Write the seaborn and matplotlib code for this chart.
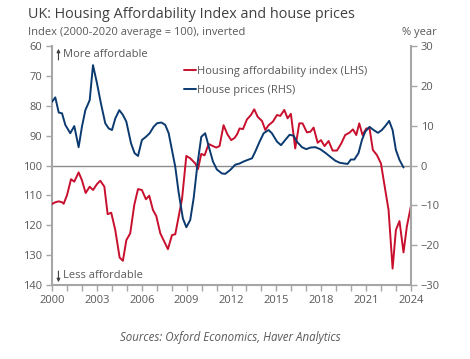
import numpy as np
import pandas as pd
import matplotlib
matplotlib.use("Agg")
import matplotlib.pyplot as plt
import seaborn as sns
from matplotlib.lines import Line2D

# ---- data ----
afford_year = [2000.00, 2000.22, 2000.45, 2000.67, 2000.78, 2001.00, 2001.27, 2001.49, 2001.78, 2002.00,
               2002.25, 2002.52, 2002.74, 2003.01, 2003.23, 2003.50, 2003.72, 2003.96, 2004.23, 2004.52,
               2004.74, 2004.97, 2005.23, 2005.50, 2005.75, 2006.01, 2006.28, 2006.50, 2006.75, 2006.97,
               2007.24, 2007.46, 2007.75, 2008.02, 2008.24, 2008.69, 2008.98, 2009.24, 2009.58, 2009.76,
               2009.98, 2010.20, 2010.47, 2010.76, 2010.98, 2011.20, 2011.47, 2011.72, 2011.98, 2012.20,
               2012.37, 2012.54, 2012.77, 2013.03, 2013.30, 2013.52, 2013.75, 2014.04, 2014.26, 2014.48,
               2014.77, 2015.04, 2015.26, 2015.53, 2015.75, 2015.97, 2016.26, 2016.53, 2016.75, 2017.04,
               2017.27, 2017.49, 2017.76, 2017.98, 2018.22, 2018.49, 2018.76, 2019.05, 2019.34, 2019.60,
               2019.89, 2020.12, 2020.34, 2020.54, 2020.76, 2021.01, 2021.23, 2021.45, 2021.72, 2021.99,
               2022.28, 2022.50, 2022.77, 2022.99, 2023.23, 2023.50, 2023.72, 2024.00]
afford_index = [112.9, 112.3, 112.0, 112.3, 112.8, 110.0, 104.6, 105.4, 102.3, 104.9,
                109.2, 107.1, 108.2, 106.2, 105.1, 107.1, 116.3, 115.8, 121.6, 130.8,
                131.9, 125.0, 122.7, 113.2, 107.9, 108.2, 111.3, 110.1, 114.9, 116.9,
                122.7, 125.0, 128.0, 123.3, 123.0, 111.3, 96.8, 97.6, 99.3, 101.2,
                96.1, 96.6, 92.8, 93.5, 94.0, 93.5, 86.5, 89.5, 91.5, 90.8,
                89.6, 87.6, 87.8, 84.6, 83.1, 81.2, 83.7, 85.1, 88.1, 86.5,
                85.3, 83.1, 83.4, 81.4, 84.2, 82.7, 94.3, 85.9, 85.9, 88.9,
                88.7, 87.3, 92.4, 91.5, 93.5, 91.8, 95.0, 95.0, 92.6, 89.8,
                89.0, 87.9, 89.8, 85.9, 89.8, 87.6, 87.6, 94.8, 96.5, 99.3,
                108.2, 114.9, 134.5, 121.6, 118.6, 129.1, 120.5, 113.5]

price_year = [2000.00, 2000.22, 2000.45, 2000.67, 2000.89, 2001.22, 2001.49, 2001.78, 2002.00, 2002.23,
              2002.52, 2002.74, 2003.01, 2003.27, 2003.56, 2003.79, 2004.01, 2004.23, 2004.50, 2004.74,
              2004.97, 2005.28, 2005.52, 2005.75, 2006.01, 2006.28, 2006.53, 2006.79, 2007.02, 2007.31,
              2007.57, 2007.80, 2008.02, 2008.24, 2008.46, 2008.75, 2008.98, 2009.24, 2009.47, 2009.73,
              2009.98, 2010.24, 2010.47, 2010.76, 2011.02, 2011.36, 2011.58, 2011.92, 2012.25, 2012.54,
              2012.81, 2013.08, 2013.37, 2013.59, 2013.88, 2014.15, 2014.48, 2014.70, 2015.04, 2015.31,
              2015.59, 2015.88, 2016.15, 2016.37, 2016.71, 2017.00, 2017.27, 2017.60, 2017.93, 2018.27,
              2018.60, 2018.94, 2019.23, 2019.54, 2019.76, 2019.98, 2020.21, 2020.49, 2020.72, 2020.94,
              2021.23, 2021.50, 2021.79, 2022.05, 2022.28, 2022.54, 2022.77, 2022.99, 2023.23, 2023.50]
price_growth = [16.0, 17.1, 13.3, 13.1, 10.2, 8.1, 9.9, 4.6, 9.7, 13.9,
                16.4, 25.2, 20.6, 15.6, 10.6, 9.3, 8.9, 11.8, 13.9, 12.7,
                11.0, 5.6, 3.1, 2.4, 6.4, 7.2, 8.1, 9.7, 10.6, 10.8,
                10.2, 8.1, 3.9, -0.3, -6.6, -13.3, -15.5, -13.7, -8.2, 0.5,
                7.2, 8.1, 4.9, 1.0, -1.0, -2.0, -2.1, -1.1, 0.2, 0.5,
                1.0, 1.4, 1.8, 3.5, 6.0, 8.1, 8.9, 8.1, 6.0, 5.1,
                6.4, 7.7, 7.5, 6.0, 4.6, 4.1, 4.5, 4.6, 4.1, 3.2,
                2.2, 1.2, 0.7, 0.5, 0.4, 1.5, 1.5, 3.1, 6.4, 8.5,
                9.7, 8.9, 8.2, 8.9, 9.9, 11.2, 8.9, 3.9, 1.4, -0.5]

x_tick_years = [2000, 2003, 2006, 2009, 2012, 2015, 2018, 2021, 2024]
left_ticks = [60, 70, 80, 90, 100, 110, 120, 130, 140]
right_ticks = [-30, -20, -10, 0, 10, 20, 30]

afford_df = pd.DataFrame({"year": afford_year, "value": afford_index})
price_df = pd.DataFrame({"year": price_year, "value": price_growth})

RED = "#c8102e"
BLUE = "#0b3a70"
TXT = "#595959"
SPINE = "#a6a6a6"
FS = 8

sns.set_theme(style="white")
plt.rcParams["font.family"] = ["Open Sans", "DejaVu Sans"]

fig = plt.figure(figsize=(4.7, 3.59), dpi=100)
ax = fig.add_axes([52 / 470, 1 - 285 / 359, (411 - 52) / 470, (285 - 46) / 359])
ax2 = ax.twinx()

sns.lineplot(data=afford_df, x="year", y="value", ax=ax, color=RED, lw=1.4, zorder=3)
sns.lineplot(data=price_df, x="year", y="value", ax=ax2, color=BLUE, lw=1.4, zorder=3)

ax.set_xlim(2000, 2024)
ax.set_ylim(140, 60)
ax2.set_ylim(-30, 30)
ax.axhline(100, color="#8c8c8c", lw=1.0, zorder=1)

ax.set_xticks(x_tick_years)
ax.set_xticks(np.arange(2000, 2025, 1), minor=True)
ax.set_yticks(left_ticks)
ax2.set_yticks(right_ticks)
ax.set_xlabel("")
ax.set_ylabel("")
ax2.set_ylabel("")

for a in (ax, ax2):
    for s in a.spines.values():
        s.set_visible(False)
ax.spines["left"].set_visible(True)
ax.spines["bottom"].set_visible(True)
ax2.spines["right"].set_visible(True)
for s in (ax.spines["left"], ax.spines["bottom"], ax2.spines["right"]):
    s.set_color(SPINE)
    s.set_linewidth(1.5)

ax.tick_params(axis="y", which="both", direction="out", length=4, width=1, color=SPINE,
               labelsize=FS, labelcolor=TXT, left=True, pad=3)
ax.tick_params(axis="x", which="both", direction="out", length=4, width=1, color=SPINE,
               labelsize=FS, labelcolor=TXT, bottom=True, pad=3)
ax2.tick_params(axis="y", direction="out", length=4, width=1, color=SPINE,
                labelsize=FS, labelcolor=TXT, right=True, pad=3)

handles = [Line2D([0], [0], color=RED, lw=1.4), Line2D([0], [0], color=BLUE, lw=1.4)]
leg = ax.legend(handles, ["Housing affordability index (LHS)", "House prices (RHS)"],
                loc="upper left", bbox_to_anchor=(0.355, 0.935), frameon=False,
                fontsize=FS, handlelength=1.1, handletextpad=0.1, labelspacing=0.75,
                borderaxespad=0)
for t in leg.get_texts():
    t.set_color(TXT)

# annotations
ax.annotate("", xy=(0.018, 1.0), xytext=(0.018, 0.93), xycoords="axes fraction",
            arrowprops=dict(arrowstyle="-|>", color="#404040", lw=0.8, mutation_scale=5))
ax.text(0.03, 0.965, "More affordable", transform=ax.transAxes, fontsize=FS,
        color=TXT, va="center", ha="left")
ax.annotate("", xy=(0.018, 0.0), xytext=(0.018, 0.07), xycoords="axes fraction",
            arrowprops=dict(arrowstyle="-|>", color="#404040", lw=0.8, mutation_scale=5))
ax.text(0.032, 0.038, "Less affordable", transform=ax.transAxes, fontsize=FS,
        color=TXT, va="center", ha="left")

fig.text(28 / 470, 1 - 14 / 359, "UK: Housing Affordability Index and house prices",
         fontsize=10.4, color="#404040", va="center", ha="left")
fig.text(28 / 470, 1 - 33 / 359, "Index (2000-2020 average = 100), inverted",
         fontsize=FS, color=TXT, va="center", ha="left")
fig.text(437 / 470, 1 - 33 / 359, "% year", fontsize=FS, color=TXT, va="center", ha="right")
fig.text(230 / 470, 1 - 338 / 359, "Sources: Oxford Economics, Haver Analytics",
         fontsize=8.3, color=TXT, va="center", ha="center", style="italic")

fig.savefig("out.png", dpi=100)
